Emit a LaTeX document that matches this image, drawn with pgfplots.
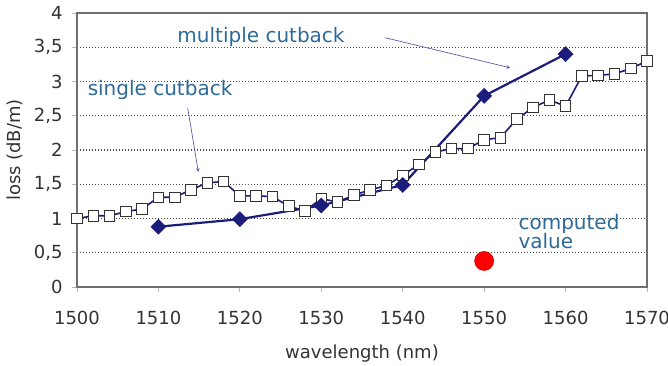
\documentclass[border=0pt]{standalone}
\usepackage{pgfplots}
\pgfplotsset{compat=1.18}
\usepackage{fontspec}
\setmainfont{DejaVu Sans}
\definecolor{navy}{HTML}{1C1C7C}
\definecolor{annot}{HTML}{2E6A98}
\definecolor{arrowc}{HTML}{5C5CA8}
\definecolor{framec}{HTML}{707070}
\definecolor{txt}{HTML}{333333}
\begin{document}
\begin{tikzpicture}[x=1pt,y=1pt]
\begin{axis}[
  name=ax, at={(0,0)}, anchor=south west,
  scale only axis, width=570pt, height=274pt,
  xmin=1500, xmax=1570, ymin=0, ymax=4,
  xtick={1500,1510,...,1570}, ytick={0,0.5,...,4},
  /pgf/number format/assume math mode=true,
  /pgf/number format/use comma,
  /pgf/number format/1000 sep={},
  yticklabel style={/pgf/number format/fixed, /pgf/number format/precision=1},
  ymajorgrids, grid style={dash pattern=on 1pt off 2pt, black!70, line width=1.1pt},
  axis line style={framec, line width=1.2pt},
  tick align=outside, major tick length=5pt,
  tick style={framec!50, line width=0.8pt},
  xtick pos=bottom, ytick pos=left,
  ticklabel style={font=\fontsize{18}{21}\selectfont, text=txt},
  xticklabel style={yshift=-16pt},
  yticklabel style={xshift=-6pt},
  xlabel={wavelength (nm)}, ylabel={loss (dB/m)},
  label style={font=\fontsize{18}{21}\selectfont, text=txt},
  xlabel style={yshift=-13pt},
  ylabel style={yshift=4pt},
  clip=false,
]
\addplot[navy, line width=1.6pt, mark=square*, mark size=5.3pt,
  mark options={fill=white, draw=black!80, line width=0.9pt}] coordinates {
(1500,1.00) (1502,1.04) (1504,1.04) (1506,1.10) (1508,1.14) (1510,1.31)
(1512,1.31) (1514,1.42) (1516,1.52) (1518,1.54) (1520,1.33) (1522,1.33)
(1524,1.32) (1526,1.18) (1528,1.11) (1530,1.29) (1532,1.24) (1534,1.34)
(1536,1.42) (1538,1.48) (1540,1.63) (1542,1.79) (1544,1.97) (1546,2.02)
(1548,2.02) (1550,2.15) (1552,2.18) (1554,2.45) (1556,2.62) (1558,2.73)
(1560,2.64) (1562,3.08) (1564,3.09) (1566,3.11) (1568,3.19) (1570,3.30)
};
\addplot[navy, line width=2.2pt, mark=square*, mark size=5.3pt,
  mark options={fill=navy, draw=navy, rotate=45, line width=0.5pt}] coordinates {
(1510,0.88) (1520,0.99) (1530,1.19) (1540,1.49) (1550,2.79) (1560,3.40)
};
\addplot[only marks, mark=*, mark size=9.5pt,
  mark options={fill=red, draw=red!80!black, line width=0.6pt}] coordinates {(1550,0.38)};
\node[annot, font=\fontsize{20}{23}\selectfont] at (axis cs:1522.6,3.65) {multiple cutback};
\node[annot, font=\fontsize{20}{23}\selectfont] at (axis cs:1510.2,2.88) {single cutback};
\node[annot, font=\fontsize{20}{23}\selectfont, anchor=north west, align=left, inner sep=0pt]
  at (axis cs:1554.2,1.07) {computed\\[-4pt]value};
\draw[arrowc, line width=0.7pt, -stealth] (axis cs:1513.6,2.61) -- (axis cs:1514.9,1.68);
\draw[arrowc, line width=0.7pt, -stealth] (axis cs:1537.8,3.64) -- (axis cs:1553.2,3.20);
\end{axis}
\pgfresetboundingbox
\path (-77pt,-79pt) rectangle (591pt,287pt);
\end{tikzpicture}
\end{document}
